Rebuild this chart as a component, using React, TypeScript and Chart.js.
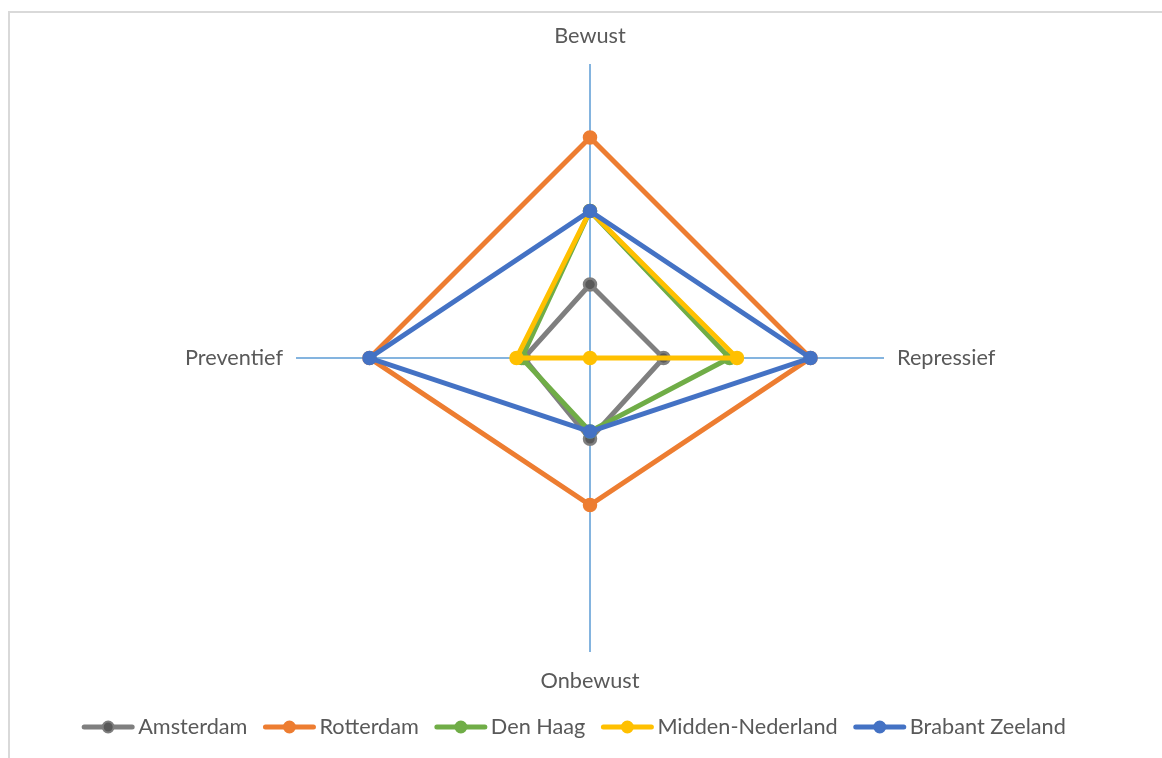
import React, { useEffect, useRef } from 'react';
import { Chart, registerables } from 'chart.js';

Chart.register(...registerables);

const categories = ['Bewust', 'Repressief', 'Onbewust', 'Preventief'];
const seriesNames = ['Amsterdam', 'Rotterdam', 'Den Haag', 'Midden-Nederland', 'Brabant Zeeland'];
const amsterdam = [1, 1, 1.1, 0.9];
const rotterdam = [3, 3, 2, 3];
const denHaag = [2, 1.9, 1, 0.93];
const middenNederland = [2, 2, 0, 1];
const brabantZeeland = [2, 3, 1, 3];
const lineColors = ['#7F7F7F', '#ED7D31', '#70AD47', '#FFC000', '#4472C4'];
const markerFill = ['#595959', '#ED7D31', '#70AD47', '#FFC000', '#4472C4'];
const scaleMax = 4;

const FONT = '21.7px Lato, "Noto Sans", sans-serif';
const TEXT_COLOR = '#595959';

const labelLegendPlugin = {
  id: 'labelLegend',
  afterDraw(chart: any) {
    const ctx = chart.ctx as CanvasRenderingContext2D;
    const scale = chart.scales.r;
    ctx.save();
    ctx.font = FONT;
    ctx.fillStyle = TEXT_COLOR;
    ctx.textBaseline = 'middle';
    categories.forEach((c, i) => {
      const p = scale.getPointPositionForValue(i, scale.max);
      let x = p.x;
      let y = p.y;
      if (i === 0) { ctx.textAlign = 'center'; y -= 28; }
      else if (i === 1) { ctx.textAlign = 'left'; x += 13; }
      else if (i === 2) { ctx.textAlign = 'center'; y += 29; }
      else { ctx.textAlign = 'right'; x -= 13; }
      ctx.fillText(c, Math.round(x), Math.round(y));
    });

    // legend
    const lineLen = 52;
    const textGap = 4;
    const itemGap = 16;
    const widths = seriesNames.map((n) => ctx.measureText(n).width);
    const total = widths.reduce((a, b) => a + b + lineLen + textGap, 0) + itemGap * (seriesNames.length - 1);
    let x = 574 - total / 2;
    const y = 727;
    seriesNames.forEach((n, i) => {
      ctx.strokeStyle = lineColors[i];
      ctx.lineWidth = 5;
      ctx.lineCap = 'round';
      ctx.beginPath();
      ctx.moveTo(x + 2, y);
      ctx.lineTo(x + lineLen - 2, y);
      ctx.stroke();
      ctx.beginPath();
      ctx.arc(x + lineLen / 2, y, 5.5, 0, Math.PI * 2);
      ctx.fillStyle = markerFill[i];
      ctx.fill();
      ctx.lineWidth = 2;
      ctx.strokeStyle = lineColors[i];
      ctx.stroke();
      ctx.fillStyle = TEXT_COLOR;
      ctx.textAlign = 'left';
      ctx.fillText(n, x + lineLen + textGap, y);
      x += lineLen + textGap + widths[i] + itemGap;
    });
    ctx.restore();
  },
};

export default function App() {
  const ref = useRef<HTMLCanvasElement | null>(null);

  useEffect(() => {
    if (!ref.current) return;
    const allData = [amsterdam, rotterdam, denHaag, middenNederland, brabantZeeland];
    const chart = new Chart(ref.current, {
      type: 'radar',
      data: {
        labels: categories,
        datasets: allData.map((d, i) => ({
          label: seriesNames[i],
          data: d,
          borderColor: lineColors[i],
          backgroundColor: lineColors[i],
          borderWidth: 5,
          fill: false,
          tension: 0,
          pointRadius: 6,
          pointBorderWidth: 2.5,
          pointBackgroundColor: markerFill[i],
          pointBorderColor: lineColors[i],
          pointHoverRadius: 6,
          order: allData.length - i,
        })),
      },
      options: {
        responsive: false,
        animation: false,
        events: [],
        layout: { padding: { left: 296, right: 278, top: 64, bottom: 106 } },
        plugins: {
          legend: { display: false },
          tooltip: { enabled: false },
        },
        scales: {
          r: {
            min: 0,
            max: scaleMax,
            ticks: { display: false, stepSize: 1 },
            grid: { display: false },
            angleLines: { display: true, color: '#5B9BD5', lineWidth: 1.5 },
            pointLabels: { display: false },
          },
        },
      },
      plugins: [labelLegendPlugin],
    });
    return () => chart.destroy();
  }, []);

  return (
    <div style={{ position: 'fixed', left: 0, top: 0, width: 1162, height: 758, background: '#fff', overflow: 'hidden' }}>
      <div
        style={{
          position: 'absolute',
          left: 8,
          top: 11,
          width: 1170,
          height: 760,
          borderTop: '2px solid #D9D9D9',
          borderLeft: '2px solid #D9D9D9',
        }}
      />
      <canvas
        ref={ref}
        width={1162}
        height={758}
        style={{ position: 'absolute', left: 0, top: 0, width: 1162, height: 758, display: 'block' }}
      />
    </div>
  );
}
